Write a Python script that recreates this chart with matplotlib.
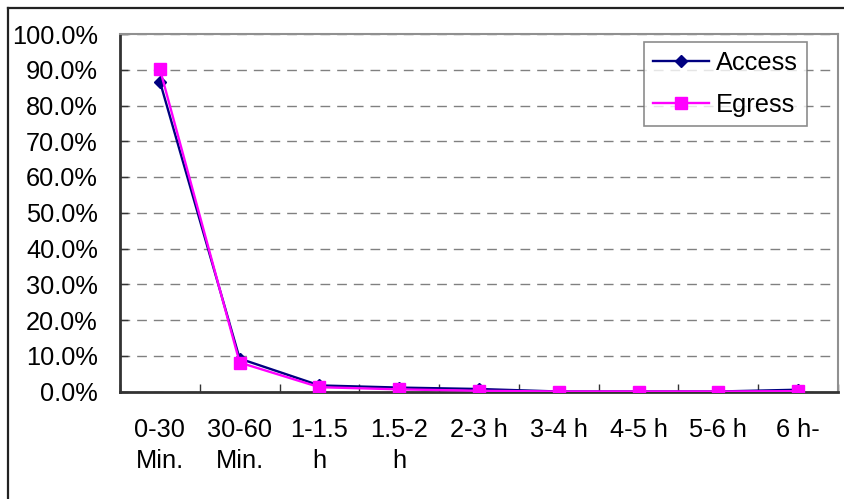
import matplotlib
matplotlib.use("Agg")
import matplotlib.pyplot as plt
from matplotlib.lines import Line2D
import numpy as np

categories = ["0-30\nMin.", "30-60\nMin.", "1-1.5\nh", "1.5-2\nh", "2-3 h",
              "3-4 h", "4-5 h", "5-6 h", "6 h-"]
access = [86.7, 9.2, 1.7, 1.1, 0.7, 0.0, 0.0, 0.0, 0.5]
egress = [90.2, 8.1, 1.2, 0.6, 0.2, 0.0, 0.0, 0.0, 0.1]
y_ticks = [0, 10, 20, 30, 40, 50, 60, 70, 80, 90, 100]

plt.rcParams["font.family"] = ["Liberation Sans", "DejaVu Sans"]

W, H = 845, 499
FS = 18.3
fig = plt.figure(figsize=(W / 100, H / 100), dpi=100)
ax = fig.add_axes([120 / W, 1 - 391.5 / H, (838 - 120) / W, (391.5 - 34) / H])

x = np.arange(len(categories))
ax.plot(x, access, color="#000080", lw=1.7, marker="D", ms=6.5,
        label="Access", zorder=3)
ax.plot(x, egress, color="#FF00FF", lw=1.7, marker="s", ms=8,
        label="Egress", zorder=4)

ax.set_xlim(-0.5, len(categories) - 0.5)
ax.set_ylim(0, 100)
ax.set_yticks(y_ticks)
ax.set_yticklabels([f"{v:.1f}%" for v in y_ticks], fontsize=FS)
ax.set_xticks(x)
ax.set_xticklabels(categories, fontsize=FS, linespacing=1.35)
ax.set_xticks(np.arange(len(categories) + 1) - 0.5, minor=True)
ax.tick_params(axis="x", which="major", length=0, pad=19)
ax.tick_params(axis="x", which="minor", direction="in", length=6, width=1,
               color="#333333")
ax.tick_params(axis="y", direction="in", length=6, width=1,
               color="#333333", pad=16)

ax.yaxis.grid(True, linestyle=(0, (7, 5)), color="#808080", lw=1)
ax.set_axisbelow(True)
for side in ("left", "bottom"):
    ax.spines[side].set_color("#333333")
    ax.spines[side].set_linewidth(2)
for side in ("top", "right"):
    ax.spines[side].set_color("#909090")
    ax.spines[side].set_linewidth(1.5)

leg = ax.legend(loc="upper right", bbox_to_anchor=(807 / W, 1 - 42 / H),
                bbox_transform=fig.transFigure, borderaxespad=0,
                fontsize=FS, frameon=True, fancybox=False,
                handlelength=2.2, handletextpad=0.3, labelspacing=0.72,
                borderpad=0.35)
leg.get_frame().set_edgecolor("#707070")
leg.get_frame().set_linewidth(1.2)

# outer chart frame
fig.add_artist(Line2D([8 / W, 8 / W], [0, 1 - 8 / H], color="#222222",
                      lw=1.6, transform=fig.transFigure))
fig.add_artist(Line2D([8 / W, 1], [1 - 8 / H, 1 - 8 / H], color="#222222",
                      lw=1.6, transform=fig.transFigure))

fig.savefig("out.png", dpi=100)
